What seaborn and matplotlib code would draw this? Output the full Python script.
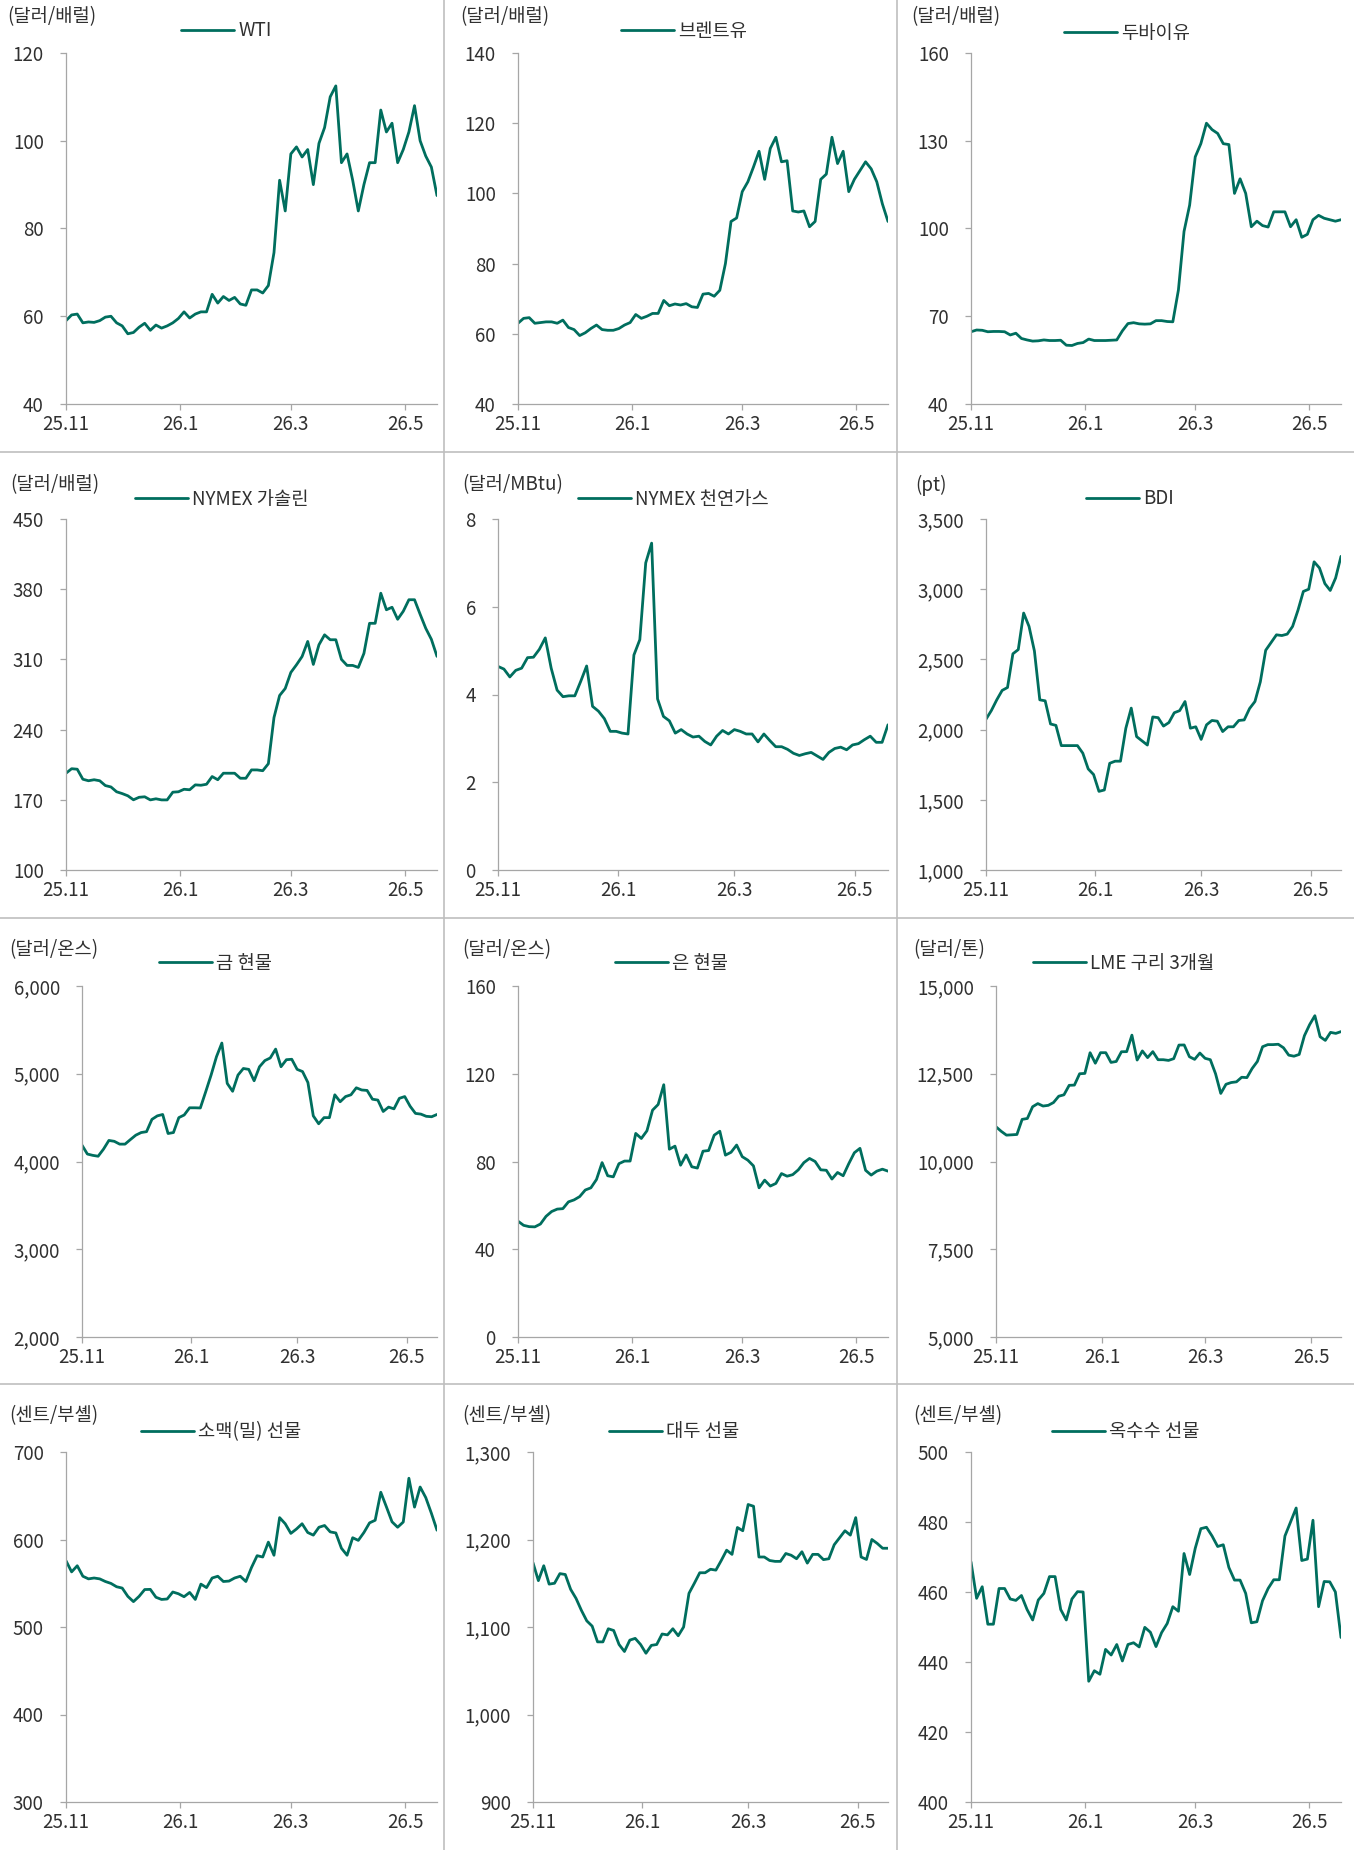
import matplotlib
matplotlib.use("Agg")
import matplotlib.pyplot as plt
import matplotlib.ticker as ticker
from matplotlib.lines import Line2D
import numpy as np
import pandas as pd
import seaborn as sns

# 3일 간격 샘플 (25.11.01 ~ 26.05.18)
dates = pd.date_range("2025-11-01", periods=67, freq="3D")

wti = [59, 60.3, 60.5, 58.5, 58.7, 58.6, 59, 59.8, 60, 58.5,
       57.8, 56, 56.3, 57.5, 58.4, 56.8, 58, 57.3, 57.8, 58.5,
       59.5, 61, 59.6, 60.5, 61, 61, 65, 63, 64.5, 63.6,
       64.3, 62.8, 62.5, 66, 66, 65.3, 67, 74.5, 91, 84,
       97, 98.6, 96.3, 98, 90, 99.4, 103, 110, 112.5, 95,
       97, 91, 84, 90, 95, 95, 107, 102, 104, 95,
       98, 102, 108, 100, 96.5, 94, 87.5]

brent = [63, 64.4, 64.6, 63, 63.2, 63.4, 63.4, 63, 63.9, 61.8,
         61.2, 59.5, 60.3, 61.5, 62.5, 61.2, 61, 61, 61.5, 62.5,
         63.2, 65.5, 64.4, 65, 65.8, 65.8, 69.5, 68, 68.5, 68.2,
         68.6, 67.7, 67.5, 71.3, 71.5, 70.7, 72.4, 80, 92, 93,
         100.5, 103.3, 107.5, 112, 104, 112.8, 116, 109, 109.3, 95,
         94.7, 95, 90.5, 92, 104, 105.5, 116, 108.5, 112, 100.5,
         104, 106.5, 109, 107, 103.3, 97, 92]

dubai = [64.7, 65.3, 65.2, 64.7, 64.8, 64.8, 64.7, 63.6, 64.2, 62.4,
         61.9, 61.5, 61.6, 61.9, 61.7, 61.7, 61.8, 60.1, 60, 60.7,
         61, 62.2, 61.7, 61.7, 61.7, 61.8, 61.9, 65, 67.5, 67.8,
         67.4, 67.3, 67.4, 68.5, 68.5, 68.2, 68.1, 79, 99, 108,
         124.5, 129, 136, 133.8, 132.5, 129, 128.7, 112, 117, 112,
         100.6, 102.5, 101, 100.5, 105.7, 105.7, 105.7, 100.6, 103, 97,
         98, 103, 104.5, 103.5, 103, 102.5, 103]

gasoline = [196.5, 201, 200.5, 190.5, 189, 190, 189, 184.2, 182.8, 178,
            176.2, 174, 170, 172.5, 173, 169.9, 171, 169.9, 169.9, 177.6,
            178, 180.5, 180, 184.9, 184.5, 185.5, 193.2, 190, 196.5, 196.5,
            196.5, 191.5, 191.5, 199.8, 199.8, 199, 206, 252, 274, 281,
            297, 304.6, 312.9, 327.9, 305, 324.6, 334.5, 329.6, 329.6, 310,
            304, 304, 302, 316, 346, 346, 376, 359.5, 362, 350,
            358, 369.5, 369.5, 355, 341, 330, 313]

natgas = [4.64, 4.58, 4.4, 4.55, 4.6, 4.84, 4.85, 5.03, 5.29, 4.6,
          4.1, 3.95, 3.97, 3.97, 4.3, 4.65, 3.73, 3.62, 3.45, 3.16,
          3.16, 3.12, 3.1, 4.9, 5.25, 7.0, 7.45, 3.9, 3.5, 3.4,
          3.12, 3.2, 3.1, 3.03, 3.05, 2.93, 2.85, 3.05, 3.18, 3.1,
          3.2, 3.16, 3.1, 3.1, 2.92, 3.1, 2.95, 2.81, 2.81, 2.75,
          2.66, 2.61, 2.65, 2.68, 2.6, 2.52, 2.68, 2.77, 2.8, 2.74,
          2.85, 2.88, 2.97, 3.05, 2.91, 2.91, 3.31]

bdi = [2074, 2136, 2212, 2279, 2300, 2540, 2570, 2830, 2735, 2560,
       2212, 2205, 2040, 2030, 1886, 1886, 1886, 1886, 1832, 1720,
       1680, 1560, 1570, 1760, 1775, 1775, 2010, 2153, 1950, 1920,
       1890, 2090, 2085, 2025, 2050, 2120, 2135, 2200, 2010, 2020,
       1930, 2034, 2065, 2060, 1986, 2020, 2020, 2065, 2069, 2150,
       2200, 2340, 2565, 2620, 2675, 2670, 2680, 2735, 2850, 2984,
       3000, 3195, 3151, 3040, 2991, 3080, 3234]

gold = [4186, 4085, 4070, 4060, 4141, 4240, 4230, 4198, 4198, 4250,
        4300, 4330, 4340, 4480, 4520, 4536, 4319, 4330, 4500, 4530,
        4612, 4612, 4610, 4795, 4985, 5194, 5350, 4890, 4800, 4985,
        5060, 5050, 4920, 5080, 5150, 5180, 5281, 5080, 5160, 5165,
        5050, 5025, 4900, 4520, 4430, 4500, 4500, 4760, 4681, 4740,
        4760, 4840, 4815, 4810, 4710, 4700, 4570, 4620, 4600, 4720,
        4740, 4630, 4548, 4540, 4515, 4510, 4536]

silver = [52.8, 50.9, 50.3, 50.2, 51.5, 55, 57.2, 58.3, 58.5, 61.6,
          62.5, 64, 67, 68, 71.8, 79.5, 73.5, 73, 79, 80.2,
          80.2, 92.8, 90.5, 94, 103.4, 106, 115, 85.6, 87, 78.3,
          83, 77.6, 77, 84.7, 85, 92, 93.8, 82.9, 84.2, 87.5,
          82.2, 80.6, 78, 68, 71.5, 68.8, 70, 74.5, 73.3, 74,
          76.2, 79.5, 81.4, 80, 76.2, 76, 72, 75, 73.5, 79,
          84, 86, 76, 73.8, 75.6, 76.5, 75.6]

copper = [10989, 10860, 10751, 10760, 10770, 11200, 11226, 11560, 11650, 11580,
          11600, 11680, 11860, 11900, 12170, 12177, 12500, 12510, 13100, 12800,
          13100, 13100, 12823, 12850, 13127, 13130, 13600, 12890, 13150, 12960,
          13130, 12900, 12900, 12880, 12930, 13317, 13320, 12985, 12910, 13090,
          12940, 12900, 12500, 11939, 12200, 12250, 12270, 12400, 12390, 12650,
          12850, 13270, 13330, 13330, 13340, 13240, 13030, 13000, 13050, 13584,
          13900, 14154, 13555, 13450, 13679, 13650, 13700]

wheat = [575.7, 563, 570, 558, 555, 556, 555, 552, 549.8, 546,
         544.5, 535, 529, 535, 542.8, 543, 534, 531.5, 532, 540,
         538, 534.6, 539.5, 531.5, 549, 545, 556, 558, 552, 552.5,
         556, 558, 552, 568, 581.5, 580, 597, 582, 625, 618,
         607, 612, 618, 608, 605, 614, 616, 608.7, 607.5, 590,
         582, 602, 599, 608, 619, 622, 654, 637.3, 620.2, 614,
         620, 670, 637, 660, 647.9, 630, 610.6]

soybean = [1173.4, 1153, 1170, 1149, 1150, 1161, 1160, 1143, 1132.7, 1119,
           1107, 1101, 1083, 1083, 1098, 1096, 1080, 1072, 1085, 1087,
           1080, 1070, 1079, 1080, 1092, 1091, 1098, 1090, 1100, 1138.5,
           1150, 1162, 1162, 1166, 1165, 1176, 1187.8, 1183, 1213.7, 1210,
           1240, 1238, 1180, 1180, 1176, 1175, 1175, 1184, 1182, 1178,
           1186, 1173, 1183, 1183, 1177, 1178, 1194, 1202, 1210, 1205,
           1225, 1180, 1177.2, 1200, 1195.5, 1190, 1190]

corn = [468.6, 458.2, 461.5, 450.8, 450.8, 461, 461, 458, 457.6, 459,
        455, 452, 457.7, 459.6, 464.4, 464.4, 455, 452, 458, 460.1,
        460, 434.5, 437.5, 436.5, 443.6, 442, 445, 440.3, 445, 445.5,
        444.3, 449.9, 448.5, 444.4, 448.4, 451, 455.8, 454.5, 471, 465,
        472.5, 478.1, 478.5, 476, 473, 473.5, 467, 463.4, 463.4, 459.6,
        451.2, 451.5, 457.5, 461, 463.5, 463.5, 476, 480, 484, 469,
        469.4, 480.5, 455.8, 463, 462.9, 460, 447]

month_ticks = pd.to_datetime(["2025-11-01", "2026-01-01", "2026-03-01", "2026-05-01"])
month_labels = ["25.11", "26.1", "26.3", "26.5"]

LINE_COLOR = "#006e5e"
AXIS_COLOR = "#a6a6a6"
TEXT_COLOR = "#303030"
W, H = 1354, 1850

sns.set_style("ticks")
plt.rcParams["font.family"] = ["Noto Sans CJK KR", "DejaVu Sans"]
plt.rcParams["font.weight"] = "light"
plt.rcParams["axes.unicode_minus"] = False

# (데이터, 범례, 단위, y최소, y최대, 간격, 축 위치 px(l, t, r, b), 범례 px, 단위 px)
panels = [
    (wti, "WTI", "(달러/배럴)", 40, 120, 20, (66, 53, 437, 404), (181, 31), (7, 17)),
    (brent, "브렌트유", "(달러/배럴)", 40, 140, 20, (518, 53, 888, 404), (621, 31), (460, 17)),
    (dubai, "두바이유", "(달러/배럴)", 40, 160, 30, (971, 53, 1341, 404), (1064, 33), (911, 17)),
    (gasoline, "NYMEX 가솔린", "(달러/배럴)", 100, 450, 70, (66, 519, 437, 870), (135, 499), (10, 485)),
    (natgas, "NYMEX 천연가스", "(달러/MBtu)", 0, 8, 2, (498, 519, 888, 870), (578, 499), (462, 485)),
    (bdi, "BDI", "(pt)", 1000, 3500, 500, (986, 519, 1341, 870), (1086, 499), (915, 485)),
    (gold, "금 현물", "(달러/온스)", 2000, 6000, 1000, (82, 986, 437, 1337), (159, 963), (9, 950)),
    (silver, "은 현물", "(달러/온스)", 0, 160, 40, (518, 986, 888, 1337), (615, 963), (462, 950)),
    (copper, "LME 구리 3개월", "(달러/톤)", 5000, 15000, 2500, (996, 986, 1341, 1337), (1033, 963), (913, 950)),
    (wheat, "소맥(밀) 선물", "(센트/부셸)", 300, 700, 100, (66, 1452, 437, 1802), (141, 1432), (9, 1416)),
    (soybean, "대두 선물", "(센트/부셸)", 900, 1300, 100, (533, 1452, 888, 1802), (609, 1432), (462, 1416)),
    (corn, "옥수수 선물", "(센트/부셸)", 400, 500, 20, (971, 1452, 1341, 1802), (1052, 1432), (913, 1416)),
]

fig = plt.figure(figsize=(W / 100, H / 100), dpi=100)

for values, name, unit, ymin, ymax, step, (l, t, r, b), (lx, ly), (ux, uy) in panels:
    ax = fig.add_axes([l / W, 1 - b / H, (r - l) / W, (b - t) / H])
    sns.lineplot(x=dates, y=values, ax=ax, color=LINE_COLOR, linewidth=2.0, label=name)

    ax.set_xlim(dates[0], dates[-1])
    ax.set_ylim(ymin, ymax)
    ax.set_yticks(np.arange(ymin, ymax + step / 2, step))
    ax.set_xticks(month_ticks)
    ax.set_xticklabels(month_labels)
    if ymax >= 1000:
        ax.yaxis.set_major_formatter(ticker.FuncFormatter(lambda v, _: f"{v:,.0f}"))
    else:
        ax.yaxis.set_major_formatter(ticker.FuncFormatter(lambda v, _: f"{v:g}"))
    ax.set_xlabel("")
    ax.set_ylabel("")

    sns.despine(ax=ax)
    for side in ("left", "bottom"):
        ax.spines[side].set_color(AXIS_COLOR)
        ax.spines[side].set_linewidth(0.9)
    ax.tick_params(axis="both", colors=AXIS_COLOR, length=4, width=0.9,
                   labelsize=13.5, labelcolor=TEXT_COLOR)
    ax.tick_params(axis="y", pad=12)
    ax.tick_params(axis="x", pad=3)

    ax.legend(loc="center left", bbox_to_anchor=(lx / W, 1 - ly / H),
              bbox_transform=fig.transFigure, frameon=False, fontsize=13.5,
              handlelength=2.8, handletextpad=0.25, borderpad=0, borderaxespad=0,
              labelcolor=TEXT_COLOR)

    fig.text(ux / W, 1 - uy / H, unit, fontsize=13.5, color=TEXT_COLOR,
             ha="left", va="center")

# 패널 구분선
for x in (444, 897):
    fig.add_artist(Line2D([x / W, x / W], [0, 1], transform=fig.transFigure,
                          color="#bfbfbf", linewidth=1.2))
for y in (452, 918, 1384):
    fig.add_artist(Line2D([0, 1], [1 - y / H, 1 - y / H], transform=fig.transFigure,
                          color="#bfbfbf", linewidth=1.2))

fig.savefig("out.png", dpi=100)
plt.close(fig)
